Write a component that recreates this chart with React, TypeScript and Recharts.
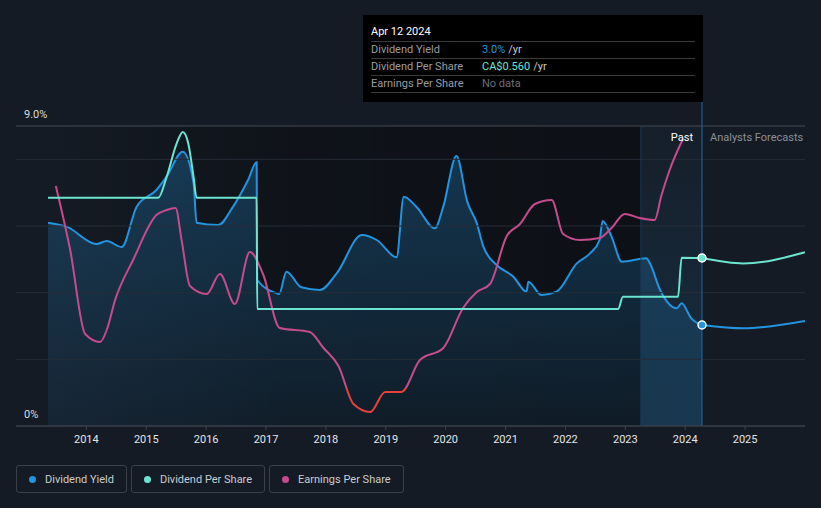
import {
  Area,
  ComposedChart,
  Line,
  ReferenceArea,
  ReferenceDot,
  ReferenceLine,
  XAxis,
  YAxis,
} from "recharts";

const FONT = "Roboto, 'Noto Sans', sans-serif";

const BLUE = "#2394df";
const TEAL = "#6ce5d0";
const PINK = "#c54b8c";
const RED = "#e8413c";

const yearTicks = [2014, 2015, 2016, 2017, 2018, 2019, 2020, 2021, 2022, 2023, 2024, 2025];
const yieldTicks = [0, 9];
const gridValues = [2, 4, 6, 8];

const TODAY = 2024.28;
const RECENT_START = 2023.26;
const DATA_START = 2013.36;

// [year, dividend yield %]
const yieldPast: [number, number][] = [
  [2013.36, 6.1], [2013.67, 5.98], [2014.17, 5.46], [2014.34, 5.55], [2014.59, 5.37],
  [2014.84, 6.58], [2015.17, 7.08], [2015.34, 7.48], [2015.61, 8.23], [2015.79, 7.29],
  [2015.84, 6.1], [2016.2, 6.03], [2016.45, 6.58], [2016.7, 7.38], [2016.843, 7.91],
  [2016.853, 4.38], [2017.18, 3.98], [2017.22, 3.96], [2017.34, 4.63], [2017.59, 4.16],
  [2017.9, 4.08], [2018.18, 4.58], [2018.6, 5.73], [2018.85, 5.58], [2019.18, 5.06],
  [2019.3, 6.88], [2019.51, 6.58], [2019.82, 5.93], [2019.96, 6.58], [2020.18, 8.1],
  [2020.36, 6.73], [2020.52, 6.08], [2020.63, 5.38], [2020.85, 4.83], [2021.13, 4.48],
  [2021.35, 4.03], [2021.38, 4.33], [2021.6, 3.93], [2021.85, 4.03], [2022.19, 4.88],
  [2022.41, 5.18], [2022.57, 5.58], [2022.62, 6.15], [2022.77, 5.68], [2022.94, 4.93],
  [2023.35, 5.03], [2023.41, 4.88], [2023.58, 4.08], [2023.86, 3.53], [2023.94, 3.68],
  [2024.1, 3.23], [2024.28, 3.03],
];
const yieldForecast: [number, number][] = [[2024.28, 3.03], [2024.97, 2.93], [2026, 3.15]];

// [year, dividend per share CA$]
const dpsPast: [number, number][] = [
  [2013.36, 0.761], [2015.2, 0.761], [2015.34, 0.83], [2015.51, 0.943], [2015.61, 0.98],
  [2015.7, 0.943], [2015.79, 0.83], [2015.84, 0.761], [2016.843, 0.761], [2016.853, 0.39],
  [2022.88, 0.39], [2022.96, 0.431], [2023.88, 0.431], [2023.94, 0.561], [2024.28, 0.56],
];
const dpsForecast: [number, number][] = [[2024.28, 0.56], [2024.97, 0.542], [2026, 0.579]];

// [year, earnings per share CA$]
const epsPast: [number, number][] = [
  [2013.49, 1.01], [2013.73, 0.69], [2013.98, 0.27], [2014.23, 0.23], [2014.34, 0.29],
  [2014.48, 0.44], [2014.78, 0.64], [2015.17, 0.865], [2015.34, 0.89], [2015.49, 0.9],
  [2015.59, 0.74], [2015.73, 0.51], [2016.01, 0.47], [2016.23, 0.57], [2016.48, 0.42],
  [2016.73, 0.68], [2016.95, 0.57], [2017.23, 0.3], [2017.73, 0.28], [2017.96, 0.2],
  [2018.21, 0.11], [2018.46, -0.08], [2018.74, -0.12], [2018.99, -0.02], [2019.26, -0.02],
  [2019.57, 0.14], [2019.96, 0.2], [2020.29, 0.4], [2020.52, 0.48], [2020.74, 0.52],
  [2021.02, 0.76], [2021.24, 0.82], [2021.49, 0.92], [2021.77, 0.94], [2021.96, 0.77],
  [2022.24, 0.74], [2022.57, 0.75], [2022.77, 0.8], [2022.99, 0.87], [2023.24, 0.85],
  [2023.49, 0.84], [2023.6, 0.96], [2023.74, 1.09], [2023.97, 1.25],
];

const tooltipRows = [
  { label: "Dividend Yield", value: "3.0%", unit: "/yr", color: BLUE },
  { label: "Dividend Per Share", value: "CA$0.560", unit: "/yr", color: TEAL },
  { label: "Earnings Per Share", value: "No data", unit: "", color: "#6b6f76" },
];

const legendItems = [
  { name: "Dividend Yield", color: BLUE },
  { name: "Dividend Per Share", color: TEAL },
  { name: "Earnings Per Share", color: PINK },
];

const toRows = (pts: [number, number][]) => pts.map(([t, v]) => ({ t, v }));

const epsValues = epsPast.map((p) => p[1]);
const epsMax = Math.max(...epsValues);
const epsMin = Math.min(...epsValues);
const epsZeroOffset = epsMax / (epsMax - epsMin);

const yieldLabel = (value: number) => (props: any) => {
  const vb = props.viewBox || {};
  return (
    <text x={vb.x + 8} y={vb.y - 12} dy="0.35em" fill="#d9dbde" fontSize={11} fontFamily={FONT}>
      {value === 0 ? "0%" : `${value.toFixed(1)}%`}
    </text>
  );
};

export default function App() {
  return (
    <div
      style={{
        position: "absolute",
        top: 0,
        left: 0,
        width: 821,
        height: 508,
        background: "#151b24",
        fontFamily: FONT,
        overflow: "hidden",
      }}
    >
      <ComposedChart width={821} height={508} margin={{ top: 126, right: 16, bottom: 52, left: 16 }}>
        <defs>
          <linearGradient id="yieldFill" x1="0" y1="0" x2="0" y2="1">
            <stop offset="0%" stopColor={BLUE} stopOpacity={0.28} />
            <stop offset="100%" stopColor={BLUE} stopOpacity={0.08} />
          </linearGradient>
          <linearGradient id="pastShade" x1="0" y1="0" x2="1" y2="0">
            <stop offset="0%" stopColor="#000" stopOpacity={0} />
            <stop offset="40%" stopColor="#000" stopOpacity={0.3} />
            <stop offset="100%" stopColor="#000" stopOpacity={0.38} />
          </linearGradient>
          <linearGradient id="recentShade" x1="0" y1="0" x2="0" y2="1">
            <stop offset="0%" stopColor={BLUE} stopOpacity={0.03} />
            <stop offset="100%" stopColor={BLUE} stopOpacity={0.16} />
          </linearGradient>
          <linearGradient id="epsStroke" x1="0" y1="0" x2="0" y2="1">
            <stop offset={epsZeroOffset} stopColor={PINK} />
            <stop offset={epsZeroOffset} stopColor={RED} />
          </linearGradient>
        </defs>

        <XAxis
          dataKey="t"
          type="number"
          domain={[2012.825, 2026]}
          ticks={yearTicks}
          allowDataOverflow
          height={30}
          tick={{ fill: "#e4e6ea", fontSize: 11, fontFamily: FONT }}
          tickLine={{ stroke: "#3b414b" }}
          tickSize={4}
          tickMargin={5}
          axisLine={{ stroke: "#3b414b" }}
        />
        <YAxis yAxisId="yield" hide domain={[0, 9]} allowDataOverflow />
        <YAxis yAxisId="dps" hide domain={[0, 1]} allowDataOverflow />
        <YAxis yAxisId="eps" hide domain={[-0.19, 1.31]} allowDataOverflow />

        <ReferenceArea
          yAxisId="yield"
          x1={DATA_START}
          x2={RECENT_START}
          y1={0}
          y2={9}
          fill="url(#pastShade)"
          fillOpacity={1}
          stroke="none"
        />
        <ReferenceArea
          yAxisId="yield"
          x1={RECENT_START}
          x2={TODAY}
          y1={0}
          y2={9}
          fill="url(#recentShade)"
          fillOpacity={1}
          stroke="none"
        />
        {gridValues.map((g) => (
          <ReferenceLine key={g} yAxisId="yield" y={g} stroke="#262c36" strokeWidth={1} />
        ))}
        {yieldTicks.map((v) => (
          <ReferenceLine
            key={`t${v}`}
            yAxisId="yield"
            y={v}
            stroke={v === 0 ? "#3b414b" : "#454a54"}
            strokeWidth={1}
            label={yieldLabel(v)}
          />
        ))}
        <ReferenceLine yAxisId="yield" x={RECENT_START} stroke="#1c3a55" strokeWidth={1} />
        <ReferenceLine
          yAxisId="yield"
          ifOverflow="visible"
          segment={[
            { x: TODAY, y: 9.75 },
            { x: TODAY, y: 0 },
          ]}
          stroke="#1f6aa6"
          strokeWidth={1}
        />

        <Area
          yAxisId="yield"
          data={toRows(yieldPast)}
          dataKey="v"
          type="monotone"
          stroke={BLUE}
          strokeWidth={2}
          fill="url(#yieldFill)"
          fillOpacity={1}
          dot={false}
          activeDot={false}
          isAnimationActive={false}
        />
        <Line
          yAxisId="yield"
          data={toRows(yieldForecast)}
          dataKey="v"
          type="monotone"
          stroke={BLUE}
          strokeWidth={2}
          dot={false}
          activeDot={false}
          isAnimationActive={false}
        />
        <Line
          yAxisId="eps"
          data={toRows(epsPast)}
          dataKey="v"
          type="monotone"
          stroke="url(#epsStroke)"
          strokeWidth={2}
          dot={false}
          activeDot={false}
          isAnimationActive={false}
        />
        <Line
          yAxisId="dps"
          data={toRows(dpsPast)}
          dataKey="v"
          type="monotone"
          stroke={TEAL}
          strokeWidth={2}
          dot={false}
          activeDot={false}
          isAnimationActive={false}
        />
        <Line
          yAxisId="dps"
          data={toRows(dpsForecast)}
          dataKey="v"
          type="monotone"
          stroke={TEAL}
          strokeWidth={2}
          dot={false}
          activeDot={false}
          isAnimationActive={false}
        />

        <ReferenceDot
          yAxisId="yield"
          x={yieldForecast[0][0]}
          y={yieldForecast[0][1]}
          r={4}
          fill={BLUE}
          stroke="#ffffff"
          strokeWidth={1.5}
        />
        <ReferenceDot
          yAxisId="dps"
          x={dpsForecast[0][0]}
          y={dpsForecast[0][1]}
          r={4}
          fill={TEAL}
          stroke="#ffffff"
          strokeWidth={1.5}
        />
      </ComposedChart>

      {/* Past / forecast labels */}
      <div
        style={{
          position: "absolute",
          right: 128,
          top: 131,
          fontSize: 11,
          lineHeight: "14px",
          color: "#ffffff",
        }}
      >
        Past
      </div>
      <div
        style={{
          position: "absolute",
          left: 710,
          top: 131,
          fontSize: 11,
          lineHeight: "14px",
          color: "#8a8f98",
        }}
      >
        Analysts Forecasts
      </div>

      {/* fixed hover tooltip */}
      <div
        style={{
          position: "absolute",
          left: 363,
          top: 15,
          width: 340,
          height: 87,
          boxSizing: "border-box",
          background: "#000000",
          padding: "8px 8px 0 8px",
          fontSize: 11,
        }}
      >
        <div
          style={{
            height: 18,
            lineHeight: "18px",
            color: "#ffffff",
            fontSize: 11,
            borderBottom: "1px solid #3a3a3a",
          }}
        >
          Apr 12 2024
        </div>
        {tooltipRows.map((r) => (
          <div
            key={r.label}
            style={{
              display: "flex",
              height: 17,
              boxSizing: "border-box",
              lineHeight: "16px",
              borderBottom: "1px solid #3a3a3a",
            }}
          >
            <span style={{ width: 111, color: "#9a9da3" }}>{r.label}</span>
            <span style={{ color: r.color }}>{r.value}</span>
            {r.unit && <span style={{ color: "#c8cacd", marginLeft: 3 }}>{r.unit}</span>}
          </div>
        ))}
      </div>

      {/* legend */}
      <div style={{ position: "absolute", left: 16, top: 465, display: "flex", gap: 4 }}>
        {legendItems.map((item) => (
          <div
            key={item.name}
            style={{
              display: "flex",
              alignItems: "center",
              height: 28,
              boxSizing: "border-box",
              padding: "0 12px",
              border: "1px solid #3a3f48",
              borderRadius: 3,
              color: "#c9ccd1",
              fontSize: 11,
            }}
          >
            <span
              style={{
                width: 7,
                height: 7,
                borderRadius: "50%",
                background: item.color,
                marginRight: 9,
              }}
            />
            {item.name}
          </div>
        ))}
      </div>
    </div>
  );
}
